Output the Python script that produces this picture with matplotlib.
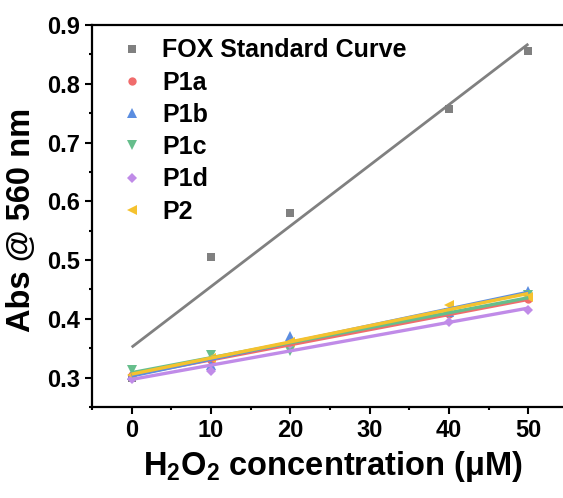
import numpy as np
import matplotlib
matplotlib.use("Agg")
import matplotlib.pyplot as plt
from matplotlib.ticker import MultipleLocator

plt.rcParams["font.family"] = ["Liberation Sans", "DejaVu Sans"]
plt.rcParams["font.weight"] = "bold"
plt.rcParams["mathtext.fontset"] = "custom"
plt.rcParams["mathtext.rm"] = "Liberation Sans:bold"
plt.rcParams["mathtext.bf"] = "Liberation Sans:bold"
plt.rcParams["mathtext.default"] = "bf"

# H2O2 concentration (uM)
conc = [0, 10, 20, 40, 50]

# Absorbance at 560 nm
fox = [0.300, 0.505, 0.580, 0.757, 0.855]
p1a = [0.305, 0.330, 0.355, 0.408, 0.433]
p1b = [0.305, 0.322, 0.370, 0.412, 0.447]
p1c = [0.313, 0.339, 0.345, 0.410, 0.441]
p1d = [0.298, 0.311, 0.357, 0.395, 0.415]
p2 = [0.305, 0.333, 0.360, 0.424, 0.437]

labels = ["FOX Standard Curve", "P1a", "P1b", "P1c", "P1d", "P2"]
series = [fox, p1a, p1b, p1c, p1d, p2]
colors = ["#808080", "#F06C6C", "#5B8DE0", "#66BE8C", "#C08BE8", "#F5C22E"]
markers = ["s", "o", "^", "v", "D", "<"]
msizes = [5.5, 6, 6.5, 6.5, 5, 6.5]
lwidths = [2.0, 2.4, 2.4, 2.4, 2.4, 2.4]

fig = plt.figure(figsize=(5.63, 4.98), dpi=100)
ax = fig.add_axes([92 / 563, 1 - 407 / 498, 476 / 563, 382 / 498])

x = np.array(conc, dtype=float)
for vals, lab, c, m, ms in zip(series, labels, colors, markers, msizes):
    ax.plot(x, vals, linestyle="none", marker=m, ms=ms, color=c,
            markeredgewidth=0, label=lab, zorder=3)

# linear least-squares fit for each series
for vals, c, lw in zip(series, colors, lwidths):
    k, b = np.polyfit(x, np.array(vals), 1)
    ax.plot(x, k * x + b, color=c, lw=lw, solid_capstyle="butt", zorder=4)

ax.set_xlim(-5, 55)
ax.set_ylim(0.25, 0.9)
ax.xaxis.set_major_locator(MultipleLocator(10))
ax.xaxis.set_minor_locator(MultipleLocator(5))
ax.yaxis.set_major_locator(MultipleLocator(0.1))
ax.yaxis.set_minor_locator(MultipleLocator(0.05))
ax.tick_params(which="both", direction="out", width=1.5, top=False, right=False)
ax.tick_params(which="major", length=5, labelsize=17, pad=3.5)
ax.tick_params(which="minor", length=2.5)
for lab in ax.get_xticklabels() + ax.get_yticklabels():
    lab.set_fontweight("bold")
for sp in ax.spines.values():
    sp.set_linewidth(1.6)

ax.set_xlabel("H$_2$O$_2$ concentration (μM)", fontsize=23.5, fontweight="bold")
ax.set_ylabel("Abs @ 560 nm", fontsize=23.5, fontweight="bold")
ax.xaxis.set_label_coords((333 - 92) / 476, -(467 - 407) / 382)
ax.yaxis.set_label_coords(-(92 - 22) / 476, (407 - 220) / 382)
ax.xaxis.label.set_va("center")
ax.yaxis.label.set_va("center")

leg = ax.legend(loc="upper left", bbox_to_anchor=(0.058, 0.965), frameon=False,
                fontsize=18, handlelength=1.0, handletextpad=0.7,
                labelspacing=0.33, borderpad=0, borderaxespad=0, numpoints=1)

fig.savefig("out.png", dpi=100)
